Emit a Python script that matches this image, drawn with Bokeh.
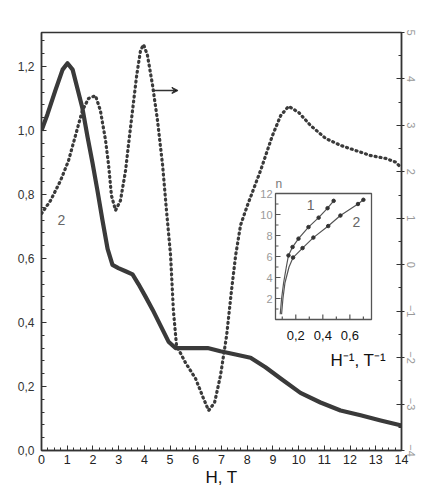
from bokeh.plotting import figure
from bokeh.models import Range1d, LinearAxis, FixedTicker, Label, Arrow, VeeHead
from bokeh.embed import file_html
from bokeh.resources import INLINE
from bokeh.core.properties import value

# ---------------- data ----------------
# curve 1 : R_H / R_0  (left axis)
H1 = [0.0, 0.23, 0.54, 0.82, 1.01, 1.21, 1.40, 1.59, 1.79, 1.98, 2.18, 2.37, 2.57,
      2.76, 2.99, 3.27, 3.54, 3.77, 4.05, 4.32, 4.63, 4.94, 5.21, 5.60, 5.99, 6.46,
      6.96, 7.55, 8.13, 8.71, 9.30, 10.07, 10.85, 11.63, 12.41, 13.19, 14.0]
R1 = [1.00, 1.05, 1.125, 1.19, 1.21, 1.19, 1.13, 1.07, 0.98, 0.90, 0.81, 0.72, 0.63,
      0.58, 0.57, 0.56, 0.55, 0.52, 0.48, 0.44, 0.39, 0.34, 0.32, 0.32, 0.32, 0.32,
      0.31, 0.30, 0.29, 0.26, 0.225, 0.18, 0.15, 0.125, 0.11, 0.094, 0.078]

# curve 2 : alpha_H / alpha_0  (right axis)
H2 = [0.0, 0.35, 0.74, 1.05, 1.32, 1.59, 1.83, 2.10, 2.29, 2.49, 2.61, 2.72, 2.88,
      3.07, 3.27, 3.38, 3.54, 3.70, 3.85, 3.97, 4.12, 4.32, 4.51, 4.71, 4.86, 5.02,
      5.13, 5.25, 5.60, 5.99, 6.30, 6.50, 6.73, 6.96, 7.20, 7.39, 7.55, 7.74, 8.01,
      8.52, 8.98, 9.30, 9.61, 10.0, 10.46, 11.05, 11.63, 12.21, 12.80, 13.38, 13.77, 14.0]
A2 = [1.1, 1.38, 1.81, 2.24, 2.78, 3.32, 3.58, 3.64, 3.32, 2.68, 2.14, 1.49, 1.17,
      1.38, 2.03, 2.57, 3.32, 4.07, 4.61, 4.74, 4.51, 3.86, 3.11, 2.14, 1.17, 0.20,
      -0.99, -1.74, -2.11, -2.45, -2.88, -3.14, -2.97, -2.39, -1.52, -0.55, 0.20, 0.85, 1.28,
      2.03, 2.78, 3.21, 3.41, 3.28, 3.00, 2.72, 2.57, 2.46, 2.35, 2.29, 2.21, 2.08]

# inset : level number n versus 1/H
invH_1 = [0.085, 0.095, 0.11, 0.13, 0.146, 0.176, 0.22, 0.294, 0.369, 0.435, 0.48]
n_1 = [0.5, 2.0, 3.5, 5.0, 6.1, 6.9, 7.7, 8.8, 9.7, 10.6, 11.3]
invH_2 = [0.095, 0.105, 0.12, 0.15, 0.18, 0.25, 0.33, 0.44, 0.53, 0.66, 0.70]
n_2 = [0.5, 2.0, 3.5, 5.0, 5.9, 6.8, 7.8, 8.9, 9.9, 11.0, 11.4]

# ticks / labels
x_ticks = list(range(0, 15))
left_ticks = [0.0, 0.2, 0.4, 0.6, 0.8, 1.0, 1.2]
left_labels = ["0,0", "0,2", "0,4", "0,6", "0,8", "1,0", "1,2"]
right_ticks = list(range(-4, 6))
inset_x_ticks = [0.2, 0.4, 0.6]
inset_x_labels = ["0,2", "0,4", "0,6"]
inset_y_ticks = [2, 4, 6, 8, 10, 12]
inset_y_labels = ["2", "4", "6", "8", "10", "12"]

# ---------------- layout constants ----------------
FW, FH = 360, 418
X0, X1 = 0.0, 14.0
Y0, Y1 = 0.0, 1.306
R0, R1r = -4.0, 5.0
# inset box in frame pixels (from left / from bottom)
IL, IR, IB, IT = 234, 330, 131, 257
IX0, IX1, IY0, IY1 = 0.05, 0.76, 0.0, 12.0
kx = (IX1 - IX0) / (IR - IL)
ky = (IY1 - IY0) / (IT - IB)
ix_start = IX0 - IL * kx
iy_start = IY0 - IB * ky

FONT = "Liberation Sans"
DARK = "#333333"
GRAY = "#808080"

p = figure(frame_width=FW, frame_height=FH, x_range=Range1d(X0, X1),
           y_range=Range1d(Y0, Y1), output_backend="svg", toolbar_location=None,
           min_border_left=41, min_border_top=32, min_border_right=8,
           min_border_bottom=8, background_fill_color="white")
p.grid.visible = False
p.outline_line_color = DARK
p.outline_line_width = 1.3

p.extra_y_ranges = {"r": Range1d(R0, R1r),
                    "iy": Range1d(iy_start, iy_start + FH * ky)}
p.extra_x_ranges = {"ix": Range1d(ix_start, ix_start + FW * kx)}

# bottom axis
xa = p.xaxis[0]
xa.ticker = FixedTicker(ticks=x_ticks, minor_ticks=[i * 0.25 for i in range(57)])
xa.axis_label = "H, T"
xa.axis_label_text_font = FONT
xa.axis_label_text_font_size = "17px"
xa.axis_label_text_font_style = "normal"
xa.axis_label_text_color = "#111111"
xa.axis_label_standoff = 1
xa.major_label_text_font = FONT
xa.major_label_text_font_size = "12.5px"
xa.major_label_text_color = "#222222"
xa.major_label_standoff = 4

# left axis
ya = p.yaxis[0]
ya.ticker = FixedTicker(ticks=left_ticks, minor_ticks=[i * 0.04 for i in range(33)])
ya.major_label_overrides = {t: s for t, s in zip(left_ticks, left_labels)}
ya.major_label_text_font = FONT
ya.major_label_text_font_size = "12px"
ya.major_label_text_color = "#333333"
ya.major_label_standoff = 7

for ax in (xa, ya):
    ax.axis_line_color = DARK
    ax.axis_line_width = 1.6
    ax.major_tick_in = 5
    ax.major_tick_out = 0
    ax.minor_tick_in = 3
    ax.minor_tick_out = 0
    ax.major_tick_line_color = DARK
    ax.minor_tick_line_color = DARK

# right axis
ra = LinearAxis(y_range_name="r",
                ticker=FixedTicker(ticks=right_ticks,
                                   minor_ticks=[-4 + 0.5 * i for i in range(19)]))
ra.axis_line_color = DARK
ra.axis_line_width = 1.6
ra.major_tick_in = 5
ra.major_tick_out = 3
ra.minor_tick_in = 3
ra.minor_tick_out = 0
ra.major_tick_line_color = DARK
ra.minor_tick_line_color = DARK
ra.major_label_text_font = FONT
ra.major_label_text_font_size = "11px"
ra.major_label_text_color = "#999999"
ra.major_label_orientation = "vertical"
ra.major_label_standoff = 2
p.add_layout(ra, "right")

# ---------------- curves ----------------
p.line(H1, R1, line_color="#3a3a3a", line_width=4.2, line_join="round")
p.line(H2, A2, y_range_name="r", line_color="#3a3a3a", line_width=3.2,
       line_dash="1 4", line_cap="round", line_join="round")

# arrow pointing to right axis
p.add_layout(Arrow(end=VeeHead(size=6, line_color=DARK, line_width=1.2),
                   x_start=4.35, y_start=1.125, x_end=5.3, y_end=1.125,
                   line_color=DARK, line_width=1.4))

p.text(x=[0.62], y=[0.72], text=["2"], text_font=value(FONT), text_font_size="14px",
       text_color="#666666", text_baseline="middle", text_align="left")

# ---------------- inset ----------------
p.quad(left=[IX0], right=[IX1], bottom=[IY0], top=[IY1], fill_color="white",
       line_color="#555555", line_width=1.3, x_range_name="ix", y_range_name="iy")
# inset ticks
ixt_all = [0.1, 0.2, 0.3, 0.4, 0.5, 0.6, 0.7]
p.segment(x0=ixt_all, y0=[IY0] * 7, x1=ixt_all,
          y1=[IY0 + (5 if t in inset_x_ticks else 3) * ky for t in ixt_all],
          line_color="#555555", line_width=1.2, x_range_name="ix", y_range_name="iy")
iyt_all = list(range(1, 12))
p.segment(x0=[IX0] * len(iyt_all), y0=iyt_all,
          x1=[IX0 + (5 if t % 2 == 0 else 3) * kx for t in iyt_all], y1=iyt_all,
          line_color="#555555", line_width=1.1, x_range_name="ix", y_range_name="iy")
p.text(x=[IX0 - 3 * kx] * len(inset_y_ticks), y=inset_y_ticks, text=inset_y_labels,
       text_font=value(FONT), text_font_size="11px", text_color="#999999",
       text_align="right", text_baseline="middle", x_range_name="ix", y_range_name="iy")
p.text(x=inset_x_ticks, y=[IY0 - 16 * ky] * 3, text=inset_x_labels,
       text_font=value(FONT), text_font_size="13px", text_color="#111111",
       text_align="center", text_baseline="middle", x_range_name="ix", y_range_name="iy")
p.text(x=[IX0], y=[IY1 + 3 * ky], text=["n"], text_font=value(FONT),
       text_font_size="12px", text_color="#777777", text_align="left",
       text_baseline="bottom", x_range_name="ix", y_range_name="iy")

p.line(invH_1, n_1, line_color="#555555", line_width=1.2, x_range_name="ix", y_range_name="iy")
p.line(invH_2, n_2, line_color="#555555", line_width=1.2, x_range_name="ix", y_range_name="iy")
p.scatter(invH_1[4:], n_1[4:], size=3.5, color="#333333", x_range_name="ix", y_range_name="iy")
p.scatter(invH_2[4:], n_2[4:], size=3.5, color="#333333", x_range_name="ix", y_range_name="iy")
p.text(x=[0.309, 0.649], y=[10.95, 9.33], text=["1", "2"], text_font=value(FONT),
       text_font_size="14px", text_color="#666666", text_align="center",
       text_baseline="middle", x_range_name="ix", y_range_name="iy")
p.text(x=[11.24], y=[0.281], text=["H\u207b\u00b9, T\u207b\u00b9"], text_font=value(FONT),
       text_font_size="17px", text_color="#111111", text_align="left",
       text_baseline="alphabetic")

# ---------------- axis titles (top) ----------------
def lab(x, y, t, size, color=GRAY):
    p.add_layout(Label(x=x, y=y, text=t, text_font=FONT, text_font_size=size,
                       text_color=color, text_baseline="alphabetic", text_align="left"))

lab(-0.23, 1.334, "R", "13px")
lab(0.19, 1.316, "H", "8px")
lab(0.52, 1.334, "/R", "13px")
lab(1.45, 1.316, "0", "8px")

lab(12.0, 1.337, "\u03b1", "13px")
lab(12.45, 1.318, "H", "8px")
lab(12.75, 1.337, "/\u03b1", "13px")
lab(13.7, 1.318, "0", "8px")

open("out.html", "w").write(file_html(p, INLINE))
